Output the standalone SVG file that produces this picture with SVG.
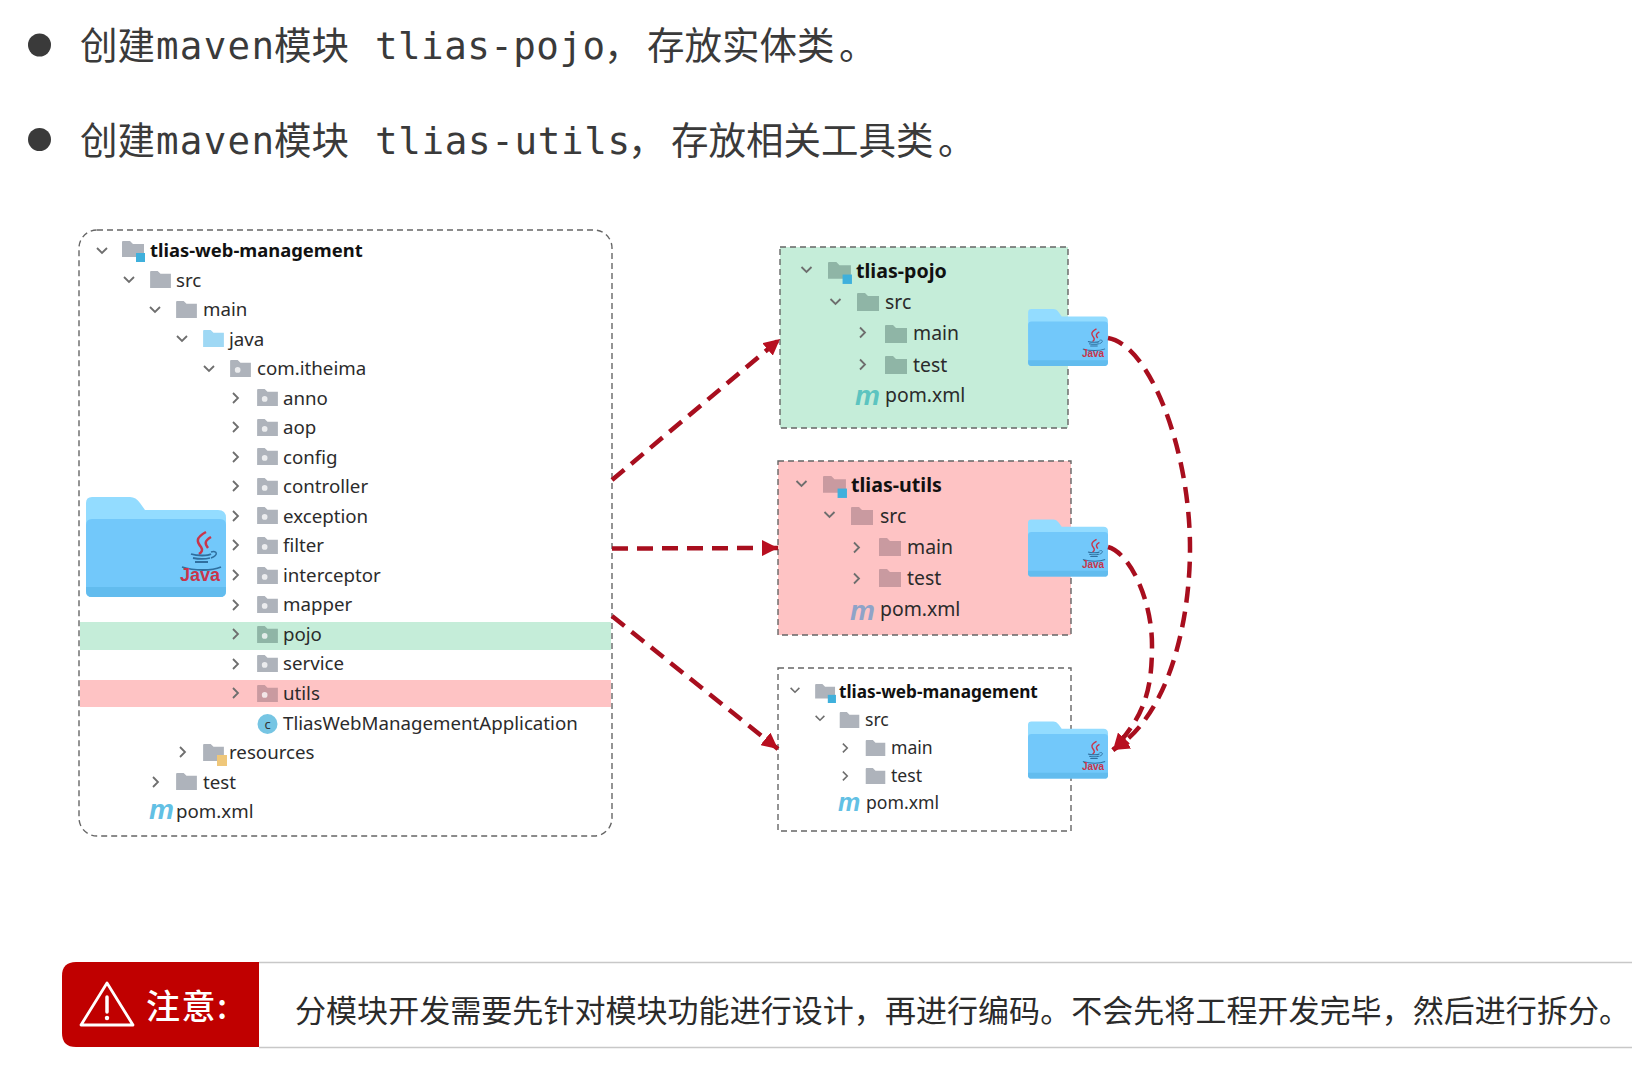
<svg xmlns="http://www.w3.org/2000/svg" width="1632" height="1082" viewBox="0 0 1632 1082">
<style>
.h{font-family:"DejaVu Sans Mono","Noto Sans CJK SC",monospace;font-size:37.5px;fill:#3a3a3a}
.hc{font-family:"Noto Sans CJK SC","Noto Sans",sans-serif;font-size:37.5px;fill:#3a3a3a}
.t{font-family:"Noto Sans","Open Sans",sans-serif;font-size:18.7px;fill:#2b2b2b}
.b{font-weight:700;fill:#111;font-size:18.4px}
.s{font-size:19.4px}
.x{font-size:17.6px}
.m{font-family:"Liberation Sans",sans-serif;font-style:italic;font-weight:700;font-size:28px;fill:#62c0e4}
.j{font-family:"Liberation Sans",sans-serif;font-weight:700;fill:#c8354a}
.fg{fill:#aeb3bb}
.chev{fill:none;stroke:#6e6e6e;stroke-width:1.8}
.conn{fill:none;stroke:#a80e1e;stroke-width:4.500;stroke-dasharray:16 9;marker-end:url(#arr)}
.box{stroke:#666;stroke-width:1.4;stroke-dasharray:6 4}
</style>
<defs>
<marker id="arr" viewBox="0 0 10 10" refX="10" refY="5" markerWidth="3.600" markerHeight="3.600" orient="auto" markerUnits="strokeWidth"><path d="M0 0L10 5L0 10z" fill="#b80f20"/></marker>
<symbol id="folder" viewBox="0 0 22 18"><path d="M0 1q0-1 1-1h7l3 3h11v15H0z"/></symbol>
<symbol id="pkg" viewBox="0 0 22 18"><path d="M0 1q0-1 1-1h7l3 3h11v15H0z"/><circle cx="8" cy="10.500" r="3" fill="#fff" fill-opacity=".75"/></symbol>
<symbol id="mod" viewBox="0 0 24 21"><path d="M0 1q0-1 1-1h7l3 3h11v13H0z"/><rect x="14" y="12" width="9" height="9" fill="#3fb0dc"/></symbol>
<symbol id="cd" viewBox="0 0 12 8"><path class="chev" d="M1 1l5 5 5-5"/></symbol>
<symbol id="cr" viewBox="0 0 8 12"><path class="chev" d="M1 1l5 5-5 5"/></symbol>
<symbol id="jf" viewBox="0 0 140 100">
<path d="M6 0h38q6 0 10 6l5 7h73q8 0 8 8v40H0V6q0-6 6-6z" fill="#93dcff"/>
<path d="M0 28q0-6 6-6h128q6 0 6 6v66q0 6-6 6H6q-6 0-6-6z" fill="#72c8fa"/>
<path d="M0 90h140v4q0 6-6 6H6q-6 0-6-6z" fill="#62bcee"/>
<path d="M120 35c-11 6-9 10-5 15 2 3 1 5-2 7M125 40c-7 4-6 7-3 11" fill="none" stroke="#c8354a" stroke-width="2.500"/>
<path d="M105 57c6 2 17 2 20 0M107 61c5 1 13 1 17 0M109 65h13M96 70c12 4 30 4 39 0" fill="none" stroke="#2f6f9f" stroke-width="1.800"/>
<path d="M125 55c6-2 8 3 0 6" fill="none" stroke="#2f6f9f" stroke-width="1.500"/>
</symbol>
</defs>
<rect width="1632" height="1082" fill="#fff"/>

<g id="bullets">
<circle cx="39.500" cy="45" r="11.500" fill="#3a3a3a"/>
<circle cx="39.500" cy="139.500" r="11.500" fill="#3a3a3a"/>
<text class="hc" x="80" y="59">创建</text><text class="h" x="156" y="59" textLength="118">maven</text><text class="hc" x="274" y="59">模块</text><text class="h" x="375" y="59" textLength="230">tlias-pojo</text><text class="hc" x="604" y="59">，</text><text class="hc" x="647" y="59">存放实体类</text><text class="hc" x="839" y="59">。</text>
<text class="hc" x="80" y="154">创建</text><text class="h" x="156" y="154" textLength="118">maven</text><text class="hc" x="274" y="154">模块</text><text class="h" x="375" y="154" textLength="255">tlias-utils</text><text class="hc" x="628" y="154">，</text><text class="hc" x="671" y="154">存放相关工具类</text><text class="hc" x="938" y="154">。</text>
</g>

<g id="project-tree">
<rect x="79" y="230" width="533" height="606" rx="18" fill="#fff" class="box"/>
<rect x="80" y="622" width="531" height="28" fill="#c5edd9"/>
<rect x="80" y="680" width="531" height="27" fill="#fec3c4"/>
<g class="fg">
<use href="#cd" x="96" y="247" width="12" height="8"/><use href="#mod" x="122" y="241" width="24" height="21"/>
<use href="#cd" x="123" y="276" width="12" height="8"/><use href="#folder" x="150" y="271" width="21" height="17"/>
<use href="#cd" x="149" y="306" width="12" height="8"/><use href="#folder" x="176" y="301" width="21" height="17"/>
<use href="#cd" x="176" y="335" width="12" height="8"/><use href="#folder" x="203" y="330" width="21" height="17" fill="#9fd8f4"/>
<use href="#cd" x="203" y="365" width="12" height="8"/><use href="#pkg" x="230" y="360" width="21" height="17"/>
<use href="#cr" x="232" y="392" width="8" height="12"/><use href="#pkg" x="257" y="389" width="21" height="17"/>
<use href="#cr" x="232" y="421" width="8" height="12"/><use href="#pkg" x="257" y="419" width="21" height="17"/>
<use href="#cr" x="232" y="451" width="8" height="12"/><use href="#pkg" x="257" y="448" width="21" height="17"/>
<use href="#cr" x="232" y="480" width="8" height="12"/><use href="#pkg" x="257" y="478" width="21" height="17"/>
<use href="#cr" x="232" y="510" width="8" height="12"/><use href="#pkg" x="257" y="507" width="21" height="17"/>
<use href="#cr" x="232" y="539" width="8" height="12"/><use href="#pkg" x="257" y="537" width="21" height="17"/>
<use href="#cr" x="232" y="569" width="8" height="12"/><use href="#pkg" x="257" y="567" width="21" height="17"/>
<use href="#cr" x="232" y="599" width="8" height="12"/><use href="#pkg" x="257" y="596" width="21" height="17"/>
<use href="#cr" x="232" y="628" width="8" height="12"/><use href="#pkg" x="257" y="626" width="21" height="17" fill="#8fb5a6"/>
<use href="#cr" x="232" y="658" width="8" height="12"/><use href="#pkg" x="257" y="655" width="21" height="17"/>
<use href="#cr" x="232" y="687" width="8" height="12"/><use href="#pkg" x="257" y="685" width="21" height="17" fill="#c99aa0"/>
<use href="#cr" x="179" y="746" width="8" height="12"/><use href="#folder" x="203" y="744" width="21" height="17"/>
<rect x="217" y="755" width="10" height="11" fill="#efc77a"/>
<use href="#cr" x="152" y="776" width="8" height="12"/><use href="#folder" x="176" y="773" width="21" height="17"/>
</g>
<circle cx="267.500" cy="724" r="10" fill="#76c5e3"/>
<text class="t" x="267.500" y="729" text-anchor="middle" style="font-size:13px;fill:#333">c</text>
<text class="t b" x="150" y="257">tlias-web-management</text>
<text class="t" x="176" y="287">src</text>
<text class="t" x="203" y="316">main</text>
<text class="t" x="229" y="346">java</text>
<text class="t" x="257" y="375">com.itheima</text>
<text class="t" x="283" y="405">anno</text>
<text class="t" x="283" y="434">aop</text>
<text class="t" x="283" y="464">config</text>
<text class="t" x="283" y="493">controller</text>
<text class="t" x="283" y="523">exception</text>
<text class="t" x="283" y="552">filter</text>
<text class="t" x="283" y="582">interceptor</text>
<text class="t" x="283" y="611">mapper</text>
<text class="t" x="283" y="641">pojo</text>
<text class="t" x="283" y="670">service</text>
<text class="t" x="283" y="700">utils</text>
<text class="t" x="283" y="730">TliasWebManagementApplication</text>
<text class="t" x="229" y="759">resources</text>
<text class="t" x="203" y="789">test</text>
<text class="m" x="149" y="819">m</text>
<text class="t" x="176" y="818">pom.xml</text>
<use href="#jf" x="86" y="497" width="140" height="100"/>
<text class="j" x="200" y="581" text-anchor="middle" style="font-size:18px">Java</text>
</g>

<g id="tlias-pojo">
<rect x="780" y="247" width="288" height="181" fill="#c5edd9" class="box"/>
<g fill="#8fb5a6">
<use href="#cd" x="800" y="266" width="13" height="8"/><use href="#mod" x="828" y="262" width="25" height="22"/>
<use href="#cd" x="829" y="298" width="13" height="8"/><use href="#folder" x="857" y="293" width="22" height="18"/>
<use href="#cr" x="859" y="326" width="8" height="13"/><use href="#folder" x="885" y="325" width="22" height="18"/>
<use href="#cr" x="859" y="358" width="8" height="13"/><use href="#folder" x="885" y="356" width="22" height="18"/>
</g>
<text class="t b" style="font-size:19.600px" x="856" y="278">tlias-pojo</text>
<text class="t s" x="885" y="309">src</text>
<text class="t s" x="913" y="340">main</text>
<text class="t s" x="913" y="372">test</text>
<text class="m" x="855" y="405" style="fill:#5cc4c0">m</text>
<text class="t s" x="885" y="402">pom.xml</text>
<use href="#jf" x="1028" y="309" width="80" height="57"/>
<text class="j" x="1093" y="357" text-anchor="middle" style="font-size:10px">Java</text>
</g>

<g id="tlias-utils">
<rect x="778" y="461" width="293" height="174" fill="#fec3c4" class="box"/>
<g fill="#c99aa0">
<use href="#cd" x="795" y="480" width="13" height="8"/><use href="#mod" x="823" y="476" width="25" height="22"/>
<use href="#cd" x="823" y="511" width="13" height="8"/><use href="#folder" x="851" y="507" width="22" height="18"/>
<use href="#cr" x="853" y="541" width="8" height="13"/><use href="#folder" x="879" y="538" width="22" height="18"/>
<use href="#cr" x="853" y="572" width="8" height="13"/><use href="#folder" x="879" y="569" width="22" height="18"/>
</g>
<text class="t b" style="font-size:19.600px" x="851" y="492">tlias-utils</text>
<text class="t s" x="880" y="523">src</text>
<text class="t s" x="907" y="554">main</text>
<text class="t s" x="907" y="585">test</text>
<text class="m" x="850" y="620" style="fill:#8fa3c8">m</text>
<text class="t s" x="880" y="616">pom.xml</text>
<use href="#jf" x="1028" y="519" width="80" height="58"/>
<text class="j" x="1093" y="568" text-anchor="middle" style="font-size:10px">Java</text>
</g>

<g id="tlias-web-management">
<rect x="778" y="668" width="293" height="163" fill="#fff" class="box"/>
<g class="fg">
<use href="#cd" x="789" y="687" width="12" height="7"/><use href="#mod" x="815" y="684" width="22" height="19"/>
<use href="#cd" x="814" y="715" width="12" height="7"/><use href="#folder" x="839" y="712" width="21" height="16"/>
<use href="#cr" x="842" y="742" width="7" height="12"/><use href="#folder" x="865" y="740" width="21" height="16"/>
<use href="#cr" x="842" y="770" width="7" height="12"/><use href="#folder" x="865" y="768" width="21" height="16"/>
</g>
<text class="t b" style="font-size:17.200px" x="839" y="698">tlias-web-management</text>
<text class="t x" x="865" y="726">src</text>
<text class="t x" x="891" y="754">main</text>
<text class="t x" x="891" y="782">test</text>
<text class="m" x="838" y="811" style="font-size:25px">m</text>
<text class="t x" x="866" y="809">pom.xml</text>
<use href="#jf" x="1028" y="721" width="80" height="58"/>
<text class="j" x="1093" y="770" text-anchor="middle" style="font-size:10px">Java</text>
</g>

<g id="connectors">
<path class="conn" d="M612 480L780 339"/>
<path class="conn" d="M612 548.500L778 548"/>
<path class="conn" d="M612 616L778 749"/>
<path class="conn" d="M1108 338C1150 345 1190 450 1190 548C1190 620 1170 715 1113 750"/>
<path class="conn" d="M1108 547C1130 553 1152 600 1152 645C1152 690 1145 715 1113 750"/>
</g>

<g id="notice">
<path d="M259 962.500H1632M259 1047.500H1632" stroke="#c8c8c8" stroke-width="1.500" fill="none"/>
<path d="M259 962H76q-14 0-14 14v57q0 14 14 14H259z" fill="#c00000"/>
<path d="M107 983L133 1025H81z" fill="none" stroke="#fff" stroke-width="2.800" stroke-linejoin="round"/>
<path d="M107 997V1012" stroke="#fff" stroke-width="3.500" stroke-linecap="round"/>
<circle cx="107" cy="1018" r="2.200" fill="#fff"/>
<text x="146" y="1019" style="font-family:'Noto Sans CJK SC',sans-serif;font-size:34px;font-weight:500;fill:#fff;letter-spacing:1.500px">注意:</text>
<text x="295" y="1022" style="font-family:'Noto Sans CJK SC',sans-serif;font-size:31px;fill:#2b2b2b" textLength="1335">分模块开发需要先针对模块功能进行设计，再进行编码。不会先将工程开发完毕，然后进行拆分。</text>
</g>
</svg>
